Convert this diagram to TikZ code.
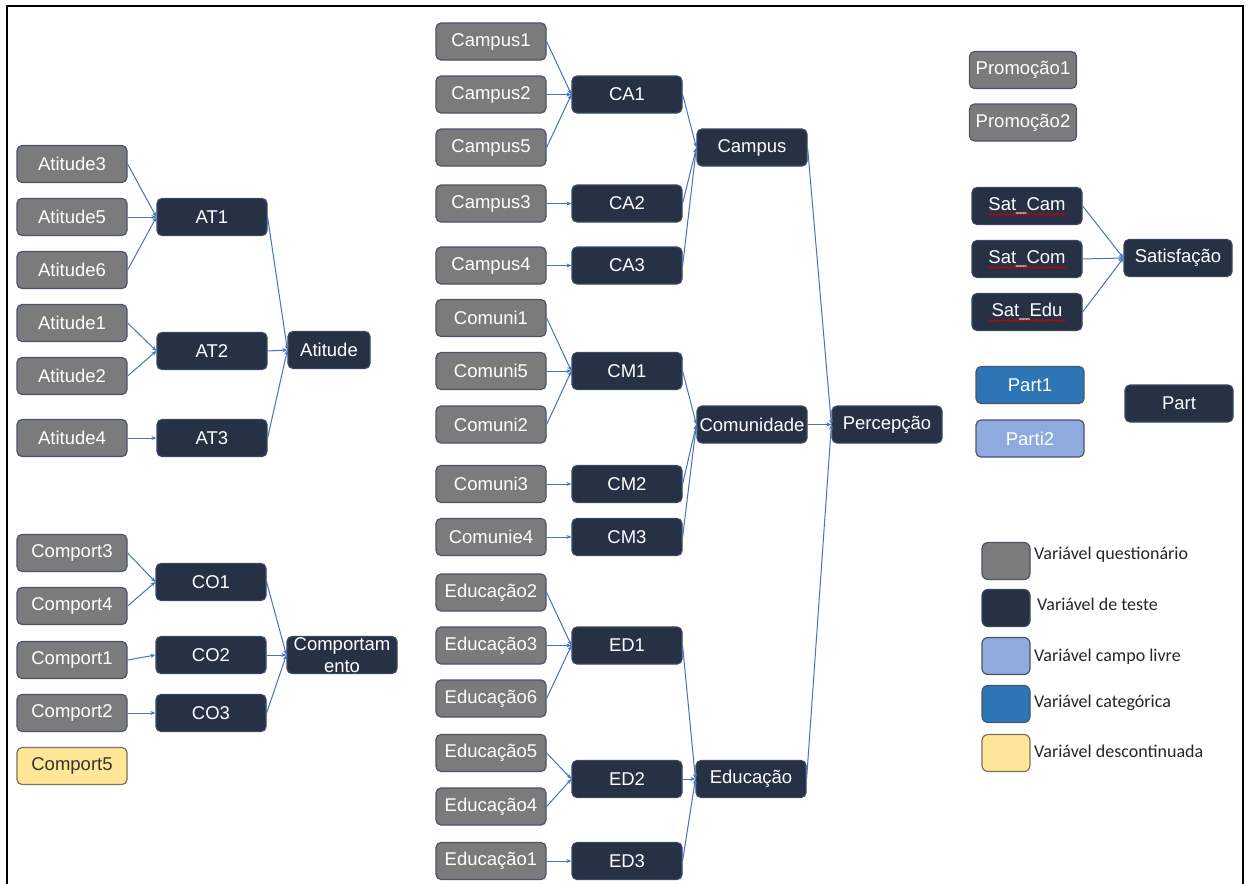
\documentclass[tikz,border=0pt]{standalone}
\usepackage{fontspec}
\setmainfont{Liberation Sans}
\newfontfamily\legfont{Carlito}
\usetikzlibrary{arrows.meta,decorations.pathmorphing}
\definecolor{qgray}{HTML}{7B7B7B}
\definecolor{qborder}{HTML}{4B5568}
\definecolor{tnavy}{HTML}{263146}
\definecolor{tborder}{HTML}{3A4760}
\definecolor{catblue}{HTML}{2E75B6}
\definecolor{freeblue}{HTML}{8FAADC}
\definecolor{discyellow}{HTML}{FFE699}
\definecolor{discborder}{HTML}{7F7358}
\definecolor{linkblue}{HTML}{4472C4}
\tikzset{
  nodebox/.style={rounded corners=5pt, minimum width=110pt, minimum height=37pt, inner sep=0pt,
    font=\fontsize{18.5}{21}\selectfont, text=white, line width=1.2pt, align=center},
  qbox/.style={nodebox, fill=qgray, draw=qborder},
  tbox/.style={nodebox, fill=tnavy, draw=tborder},
  catbox/.style={nodebox, fill=catblue, draw=qborder},
  freebox/.style={nodebox, fill=freeblue, draw=qborder},
  discbox/.style={nodebox, fill=discyellow, draw=discborder, text=black!80},
  legbox/.style={rounded corners=6pt, minimum width=48pt, minimum height=37pt, inner sep=0pt, line width=1.2pt},
  legtext/.style={anchor=west, inner sep=0pt, font=\legfont\fontsize{18}{20}\selectfont, text=black!85},
  link/.style={draw=linkblue, line width=1pt, -{Stealth[length=5pt,width=4pt]}},
  squiggle/.style={draw=red!80!black, line width=0.7pt, decorate, decoration={snake, amplitude=0.9pt, segment length=3pt}}
}
\begin{document}
\begin{tikzpicture}[x=1pt, y=-1pt]
\useasboundingbox (0,0) rectangle (1246,883);
\fill[white] (0,0) rectangle (1246,883);
\begin{scope}
\clip (0,0) rectangle (1246,883);
\draw[line width=2.5pt] (7,6) rectangle (1243,900);
\end{scope}

% ---------- Atitude ----------
\node[qbox] (at3) at (72,164) {Atitude3};
\node[qbox] (at5) at (72,217) {Atitude5};
\node[qbox] (at6) at (72,270) {Atitude6};
\node[qbox] (at1q) at (72,323) {Atitude1};
\node[qbox] (at2q) at (72,376) {Atitude2};
\node[qbox] (at4) at (72,438) {Atitude4};
\node[tbox] (AT1) at (212,217) {AT1};
\node[tbox] (AT2) at (212,351) {AT2};
\node[tbox] (AT3) at (212,438) {AT3};
\node[tbox, minimum width=82pt] (atitude) at (329,350) {Atitude};
\foreach \s in {at3,at5,at6} \draw[link] (\s.east) -- (AT1.west);
\foreach \s in {at1q,at2q} \draw[link] (\s.east) -- (AT2.west);
\draw[link] (at4.east) -- (AT3.west);
\foreach \s in {AT1,AT2,AT3} \draw[link] (\s.east) -- (atitude.west);

% ---------- Comportamento ----------
\node[qbox] (co3q) at (72,553) {Comport3};
\node[qbox] (co4q) at (72,606) {Comport4};
\node[qbox] (co1q) at (72,660) {Comport1};
\node[qbox] (co2q) at (72,713) {Comport2};
\node[discbox] (co5q) at (72,766) {Comport5};
\node[tbox] (CO1) at (211,582) {CO1};
\node[tbox] (CO2) at (211,655) {CO2};
\node[tbox] (CO3) at (211,713) {CO3};
\node[tbox] (comport) at (342,655) {Comportam\\[1pt]ento};
\foreach \s in {co3q,co4q} \draw[link] (\s.east) -- (CO1.west);
\draw[link] (co1q.east) -- (CO2.west);
\draw[link] (co2q.east) -- (CO3.west);
\foreach \s in {CO1,CO2,CO3} \draw[link] (\s.east) -- (comport.west);

% ---------- Campus ----------
\node[qbox] (ca1q) at (491,41.5) {Campus1};
\node[qbox] (ca2q) at (491,94.5) {Campus2};
\node[qbox] (ca5q) at (491,147.5) {Campus5};
\node[qbox] (ca3q) at (491,203.5) {Campus3};
\node[qbox] (ca4q) at (491,265.5) {Campus4};
\node[tbox] (CA1) at (627,94.5) {CA1};
\node[tbox] (CA2) at (627,203.5) {CA2};
\node[tbox] (CA3) at (627,265.5) {CA3};
\node[tbox] (campus) at (752,147.5) {Campus};
\foreach \s in {ca1q,ca2q,ca5q} \draw[link] (\s.east) -- (CA1.west);
\draw[link] (ca3q.east) -- (CA2.west);
\draw[link] (ca4q.east) -- (CA3.west);
\foreach \s in {CA1,CA2,CA3} \draw[link] (\s.east) -- (campus.west);

% ---------- Comunidade ----------
\node[qbox] (cm1q) at (491,318) {Comuni1};
\node[qbox] (cm5q) at (491,371) {Comuni5};
\node[qbox] (cm2q) at (491,424.5) {Comuni2};
\node[qbox] (cm3q) at (491,484) {Comuni3};
\node[qbox] (cm4q) at (491,537) {Comunie4};
\node[tbox] (CM1) at (627,371) {CM1};
\node[tbox] (CM2) at (627,484) {CM2};
\node[tbox] (CM3) at (627,537) {CM3};
\node[tbox] (comun) at (752,424.5) {Comunidade};
\foreach \s in {cm1q,cm5q,cm2q} \draw[link] (\s.east) -- (CM1.west);
\draw[link] (cm3q.east) -- (CM2.west);
\draw[link] (cm4q.east) -- (CM3.west);
\foreach \s in {CM1,CM2,CM3} \draw[link] (\s.east) -- (comun.west);

% ---------- Educação ----------
\node[qbox] (ed2q) at (491,592.5) {Educação2};
\node[qbox] (ed3q) at (491,645.5) {Educação3};
\node[qbox] (ed6q) at (491,698.5) {Educação6};
\node[qbox] (ed5q) at (491,753) {Educação5};
\node[qbox] (ed4q) at (491,806.5) {Educação4};
\node[qbox] (ed1q) at (491,861) {Educação1};
\node[tbox] (ED1) at (627,645.5) {ED1};
\node[tbox] (ED2) at (627,779) {ED2};
\node[tbox] (ED3) at (627,861) {ED3};
\node[tbox] (educ) at (751,779) {Educação};
\foreach \s in {ed2q,ed3q,ed6q} \draw[link] (\s.east) -- (ED1.west);
\foreach \s in {ed5q,ed4q} \draw[link] (\s.east) -- (ED2.west);
\draw[link] (ed1q.east) -- (ED3.west);
\foreach \s in {ED1,ED2,ED3} \draw[link] (\s.east) -- (educ.west);

% ---------- Percepção ----------
\node[tbox] (percep) at (887,424.5) {Percepção};
\foreach \s in {campus,comun,educ} \draw[link] (\s.east) -- (percep.west);

% ---------- Right side ----------
\node[qbox, minimum width=107pt] (promo1) at (1023,70) {Promoção1};
\node[qbox, minimum width=107pt] (promo2) at (1023,122.5) {Promoção2};
\node[tbox] (satcam) at (1027,206) {Sat\_Cam};
\node[tbox] (satcom) at (1027,259) {Sat\_Com};
\node[tbox] (satedu) at (1027,312) {Sat\_Edu};
\node[tbox, minimum width=108pt] (satisf) at (1178,258) {Satisfação};
\foreach \s in {satcam,satcom,satedu} {
  \draw[link] (\s.east) -- (satisf.west);
  \draw[squiggle] ([xshift=-39pt,yshift=-8.5pt]\s.center) -- ([xshift=39pt,yshift=-8.5pt]\s.center);
}
\node[catbox, minimum width=108pt] (part1) at (1030,385) {Part1};
\node[freebox, minimum width=108pt] (parti2) at (1030,438.5) {Parti2};
\node[tbox, minimum width=108pt] (part) at (1179,403.5) {Part};

% ---------- Legend ----------
\node[legbox, fill=qgray, draw=qborder] (lg1) at (1006,561) {};
\node[legbox, fill=tnavy, draw=tborder] (lg2) at (1006,608) {};
\node[legbox, fill=freeblue, draw=qborder] (lg3) at (1006,656) {};
\node[legbox, fill=catblue, draw=qborder] (lg4) at (1006,704) {};
\node[legbox, fill=discyellow, draw=discborder] (lg5) at (1006,753) {};
\node[legtext] (lt1) at (1034,555) {Variável questionário};
\node[legtext] (lt2) at (1037,604) {Variável de teste};
\node[legtext] (lt3) at (1034,657) {Variável campo livre};
\node[legtext] (lt4) at (1034,703) {Variável categórica};
\node[legtext] (lt5) at (1034,751) {Variável descontinuada};
\end{tikzpicture}
\end{document}
